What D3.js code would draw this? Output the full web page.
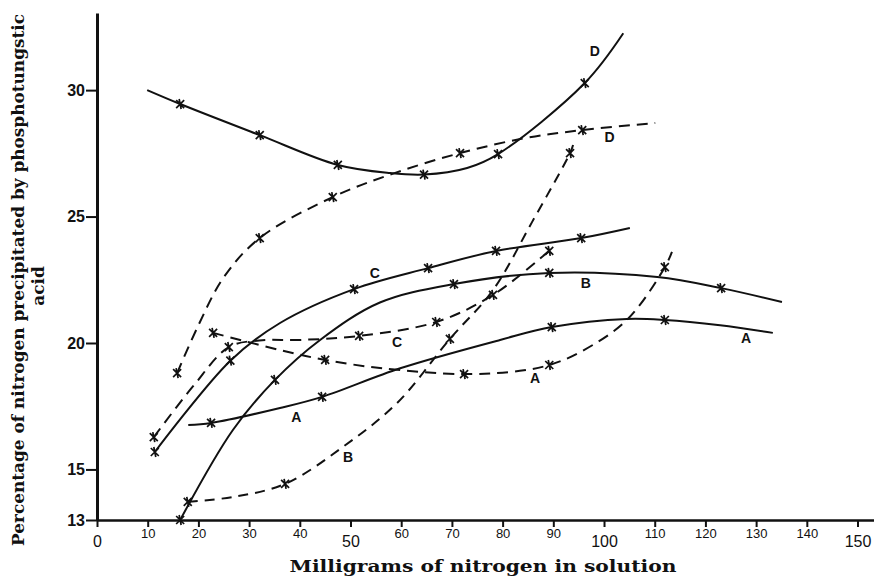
<!DOCTYPE html>
<html>
<head>
<meta charset="utf-8">
<script src="https://cdn.jsdelivr.net/npm/d3@7"></script>
<style>
body { margin: 0; background: #fff; }
svg { display: block; }
</style>
</head>
<body>
<svg width="874" height="579"></svg>
<script>
var xTicks = [0, 10, 20, 30, 40, 50, 60, 70, 80, 90, 100, 110, 120, 130, 140, 150];
var xBigTicks = [0, 50, 100, 150];
var yTicks = [13, 15, 20, 25, 30];
var yTickLabels = ["13", "15", "20", "25", "30"];

// [mg nitrogen, % precipitated]
var solidD = [[9.9, 30.0], [16.4, 29.45], [32.1, 28.22], [47.5, 27.04], [57.8, 26.72], [64.5, 26.66],
  [73.0, 26.92], [79.1, 27.47], [96.2, 30.28], [103.8, 32.25]];
var solidDMarks = [[16.4, 29.45], [32.1, 28.22], [47.5, 27.04], [64.5, 26.66], [79.1, 27.47], [96.2, 30.28]];

var dashedD = [[15.8, 18.81], [20.0, 20.7], [25.0, 22.6], [32.1, 24.15], [46.5, 25.77],
  [58.4, 26.7], [71.6, 27.51], [84.4, 28.1], [95.7, 28.42], [110.1, 28.7]];
var dashedDMarks = [[15.8, 18.81], [32.1, 24.15], [46.5, 25.77], [71.6, 27.51], [95.7, 28.42]];

var solidC = [[11.4, 15.69], [26.3, 19.3], [36.1, 20.79], [50.7, 22.13], [65.3, 22.96], [78.7, 23.64],
  [95.5, 24.15], [105.1, 24.55]];
var solidCMarks = [[11.4, 15.69], [26.3, 19.3], [50.7, 22.13], [65.3, 22.96], [78.7, 23.64], [95.5, 24.15]];

var dashedC = [[11.2, 16.28], [19.0, 18.3], [26.0, 19.84], [32.0, 20.1], [40.0, 20.12],
  [51.7, 20.28], [66.9, 20.83], [78.1, 21.9], [89.2, 23.64], [89.9, 23.75]];
var dashedCMarks = [[11.2, 16.28], [26.0, 19.84], [51.7, 20.28], [66.9, 20.83], [78.1, 21.9], [89.2, 23.64]];

var solidB = [[16.4, 13.0], [26.8, 16.56], [35.1, 18.54], [44.0, 20.12], [55.8, 21.6],
  [70.4, 22.33], [89.2, 22.77], [110.5, 22.61], [123.1, 22.17], [135.1, 21.62]];
var solidBMarks = [[16.4, 13.0], [35.1, 18.54], [70.4, 22.33], [89.2, 22.77], [123.1, 22.17]];

var dashedB = [[17.9, 13.72], [26.8, 13.91], [37.1, 14.43], [48.5, 15.89], [59.2, 17.63],
  [69.6, 20.16], [78.1, 22.09], [85.8, 24.78], [93.3, 27.51], [93.9, 27.83]];
var dashedBMarks = [[17.9, 13.72], [37.1, 14.43], [69.6, 20.16], [93.3, 27.51]];

var solidA = [[18.0, 16.76], [22.5, 16.84], [36.1, 17.43], [44.4, 17.87],
  [59.8, 19.0], [79.5, 20.12], [89.7, 20.63], [104.5, 20.95], [112.0, 20.91],
  [122.9, 20.7], [133.3, 20.4]];
var solidAMarks = [[22.5, 16.84], [44.4, 17.87], [89.7, 20.63], [112.0, 20.91]];

var dashedA = [[22.9, 20.4], [36.1, 19.72], [45.0, 19.33], [55.8, 19.01],
  [72.4, 18.77], [83.4, 18.9], [89.2, 19.13], [95.3, 19.64], [104.5, 20.91], [112.0, 23.0], [113.4, 23.6]];
var dashedAMarks = [[22.9, 20.4], [45.0, 19.33], [72.4, 18.77], [89.2, 19.13], [112.0, 23.0]];

var curveLabels = [
  {text: "D", x: 98.2, y: 31.55}, {text: "D", x: 101.1, y: 28.14},
  {text: "C", x: 54.8, y: 22.77}, {text: "C", x: 59.2, y: 20.04},
  {text: "B", x: 96.4, y: 22.37}, {text: "B", x: 49.5, y: 15.49},
  {text: "A", x: 39.3, y: 17.08}, {text: "A", x: 86.4, y: 18.62}, {text: "A", x: 128.0, y: 20.2}
];

var svg = d3.select("svg");

var x = d3.scaleLinear().domain([0, 153.25]).range([97, 874]);
var y = d3.scaleLinear().domain([13, 33.05]).range([520, 13]);

var line = d3.line()
  .x(function(d) { return x(d[0]); })
  .y(function(d) { return y(d[1]); })
  .curve(d3.curveCatmullRom.alpha(0.5));

var curves = [
  {pts: solidD, marks: solidDMarks, dash: null},
  {pts: dashedD, marks: dashedDMarks, dash: "11,7"},
  {pts: solidC, marks: solidCMarks, dash: null},
  {pts: dashedC, marks: dashedCMarks, dash: "11,7"},
  {pts: solidB, marks: solidBMarks, dash: null},
  {pts: dashedB, marks: dashedBMarks, dash: "10,7"},
  {pts: solidA, marks: solidAMarks, dash: null},
  {pts: dashedA, marks: dashedAMarks, dash: "11,7"}
];

curves.forEach(function(c) {
  svg.append("path")
    .attr("d", line(c.pts))
    .attr("fill", "none")
    .attr("stroke", "#111")
    .attr("stroke-width", 2)
    .attr("stroke-dasharray", c.dash);

  svg.append("g").selectAll("path")
    .data(c.marks)
    .enter().append("path")
      .attr("transform", function(d) { return "translate(" + x(d[0]) + "," + y(d[1]) + ")"; })
      .attr("d", "M-4,-4L4,4M-4,4L4,-4M-1,-5L1,5")
      .attr("stroke", "#111")
      .attr("stroke-width", 1.7);
});

// curve letters
svg.append("g").selectAll("text")
  .data(curveLabels)
  .enter().append("text")
    .attr("x", function(d) { return x(d.x); })
    .attr("y", function(d) { return y(d.y); })
    .attr("dy", "0.36em")
    .attr("text-anchor", "middle")
    .attr("font-family", "Liberation Sans, Arial, sans-serif")
    .attr("font-weight", "bold")
    .attr("font-size", 14)
    .attr("fill", "#111")
    .text(function(d) { return d.text; });

// x axis
var xAxis = svg.append("g")
  .attr("transform", "translate(0," + y(13) + ")")
  .call(d3.axisBottom(x).tickValues(xTicks).tickSize(7).tickSizeOuter(0).tickFormat(d3.format("d")));
xAxis.select(".domain").attr("stroke", "#111").attr("stroke-width", 2.5);
xAxis.selectAll(".tick line").attr("stroke", "#111").attr("stroke-width", 2);
xAxis.selectAll(".tick text")
  .attr("fill", "#111")
  .attr("font-family", "Liberation Sans, Arial, sans-serif")
  .attr("font-size", function(d) { return xBigTicks.indexOf(d) >= 0 ? 16 : 13; })
  .attr("y", function(d) { return xBigTicks.indexOf(d) >= 0 ? 16 : 9; });

// y axis
var yAxis = svg.append("g")
  .attr("transform", "translate(" + x(0) + ",0)")
  .call(d3.axisLeft(y).tickValues(yTicks).tickSize(11).tickSizeOuter(0)
    .tickFormat(function(d, i) { return yTickLabels[i]; }));
yAxis.select(".domain").attr("stroke", "#111").attr("stroke-width", 3);
yAxis.selectAll(".tick line").attr("stroke", "#111").attr("stroke-width", 2);
yAxis.selectAll(".tick text")
  .attr("fill", "#111")
  .attr("x", -12)
  .attr("font-family", "Liberation Sans, Arial, sans-serif")
  .attr("font-weight", "bold")
  .attr("font-size", 16);

// axis titles
svg.append("text")
  .attr("x", 483)
  .attr("y", 572)
  .attr("text-anchor", "middle")
  .attr("font-family", "DejaVu Serif, serif")
  .attr("font-weight", "bold")
  .attr("font-size", 17)
  .attr("textLength", 387)
  .attr("lengthAdjust", "spacingAndGlyphs")
  .attr("fill", "#111")
  .text("Milligrams of nitrogen in solution");

var yTitle = svg.append("g")
  .attr("transform", "translate(24,280) rotate(-90)")
  .attr("font-family", "DejaVu Serif, serif")
  .attr("font-weight", "bold")
  .attr("font-size", 17)
  .attr("fill", "#111")
  .attr("text-anchor", "middle");
yTitle.append("text")
  .attr("x", 0)
  .attr("y", 0)
  .attr("textLength", 532)
  .attr("lengthAdjust", "spacingAndGlyphs")
  .text("Percentage of nitrogen precipitated by phosphotungstic");
yTitle.append("text")
  .attr("x", -6)
  .attr("y", 20)
  .text("acid");
</script>
</body>
</html>
